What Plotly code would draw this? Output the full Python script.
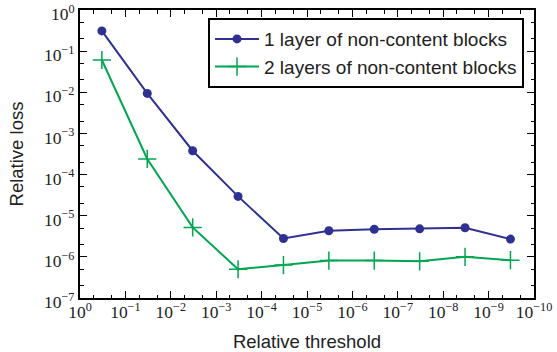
import plotly.graph_objects as go

# Relative threshold values (decreasing) and the resulting relative losses
thresholds = [3.3e-1, 3.3e-2, 3.3e-3, 3.3e-4, 3.3e-5, 3.3e-6, 3.3e-7, 3.3e-8, 3.3e-9, 3.3e-10]
loss_one_layer = [3.1e-1, 9.4e-3, 3.8e-4, 2.95e-5, 2.8e-6, 4.3e-6, 4.7e-6, 4.8e-6, 5.1e-6, 2.7e-6]
loss_two_layers = [6.1e-2, 2.4e-4, 5.2e-6, 5.0e-7, 6.3e-7, 8.1e-7, 8.1e-7, 7.8e-7, 1.0e-6, 8.3e-7]

series_names = ["1 layer of non-content blocks", "2 layers of non-content blocks"]

x_tick_exps = list(range(0, -11, -1))
y_tick_exps = list(range(0, -8, -1))


def pow_label(e):
    s = str(e).replace("-", "\u2212")
    return f"10<sup>{s}</sup>"


BLUE = "#2e3192"
GREEN = "#00a650"
TEXT = "#222222"

fig = go.Figure()
fig.add_trace(go.Scatter(
    x=thresholds, y=loss_one_layer, name=series_names[0],
    mode="lines+markers",
    line=dict(color=BLUE, width=2),
    marker=dict(symbol="circle", size=9, color=BLUE),
))
fig.add_trace(go.Scatter(
    x=thresholds, y=loss_two_layers, name=series_names[1],
    mode="lines+markers",
    line=dict(color=GREEN, width=2),
    marker=dict(symbol="cross-thin", size=13, color=GREEN,
                line=dict(color=GREEN, width=1.5)),
))

tick_font = dict(family="Liberation Serif", size=17.5, color=TEXT)
title_font = dict(family="Liberation Sans", size=18.5, color=TEXT)
axis_common = dict(
    showline=True, linecolor="black", linewidth=2, mirror="allticks",
    ticks="inside", ticklen=7, tickwidth=1, tickcolor="black",
    showgrid=False, zeroline=False, tickfont=tick_font, automargin=False,
    ticklabeloverflow="allow",
    minor=dict(ticks="inside", ticklen=3.5, tickwidth=1, tickcolor="black", showgrid=False),
)

fig.update_xaxes(
    type="log", range=[0, -10],
    tickvals=[10.0 ** e for e in x_tick_exps],
    ticktext=[pow_label(e) for e in x_tick_exps],
    title=dict(text="Relative threshold", font=title_font),
    ticklabelstandoff=-3,
    **axis_common,
)
fig.update_yaxes(
    type="log", range=[-7, 0],
    tickvals=[10.0 ** e for e in y_tick_exps],
    ticktext=[pow_label(e) for e in y_tick_exps],
    title=dict(text="Relative loss", font=title_font),
    ticklabelshift=4,
    **axis_common,
)

fig.update_layout(
    width=557, height=352,
    margin=dict(l=80, r=23, t=10, b=54),
    paper_bgcolor="white", plot_bgcolor="white",
    showlegend=True,
    legend=dict(
        x=0.978, y=0.972, xanchor="right", yanchor="top",
        bgcolor="white", bordercolor="black", borderwidth=2,
        font=dict(family="Liberation Sans", size=19, color=TEXT),
        itemwidth=44, tracegroupgap=0,
    ),
)

fig.write_html("out.html")
